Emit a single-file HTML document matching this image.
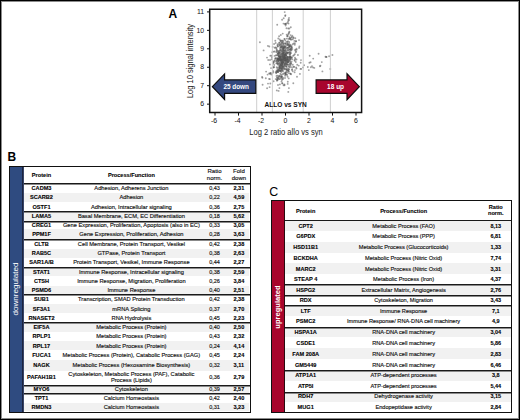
<!DOCTYPE html>
<html><head><meta charset="utf-8"><style>
html,body{margin:0;padding:0;background:#fff}
body{width:520px;height:420px;position:relative;overflow:hidden;font-family:"Liberation Sans",sans-serif;color:#1a1a1a}
.frame{position:absolute;left:0;top:0;width:520px;height:420px;box-sizing:border-box;border:1px solid #000;box-shadow:inset 0 0 0 1px rgba(0,0,0,.45);z-index:9}
.lbl{position:absolute;font-size:12px;font-weight:bold;line-height:12px;color:#000}
.tbl{position:absolute;box-sizing:border-box;border:1.3px solid #111;background:#fff}
.c{position:absolute;width:200px;text-align:center;white-space:nowrap;font-size:5.6px}
.pb{font-weight:bold;color:#000;-webkit-text-stroke:0.1px #000}
.pr{font-size:5.72px;color:#111;-webkit-text-stroke:0.15px #111}
.bg{position:absolute;background:#f1f1f1}
.ln{position:absolute;background:linear-gradient(#1a1a1a 0 1px,#8a8a8a 1px 2px)}
.hd{font-size:6px !important}
.nv{font-size:5.5px !important}
.cp{font-size:5.63px !important}
.side{position:absolute;color:#fff;font-size:8.1px;white-space:nowrap;transform:rotate(-90deg);transform-origin:center center;text-align:center;width:80px;height:10px;line-height:10px}
svg text{font-family:"Liberation Sans",sans-serif}
.tk{font-size:6.9px;fill:#111}
</style></head><body>
<div class="frame"></div>
<div class="lbl" style="left:168.6px;top:7.7px">A</div>
<div class="lbl" style="left:7.6px;top:150.9px">B</div>
<div class="lbl" style="left:269.2px;top:186px;font-weight:normal;font-size:12.4px">C</div>
<svg width="520" height="420" style="position:absolute;left:0;top:0">
<g fill="#555" fill-opacity="0.55"><circle cx="278.4" cy="60.0" r="0.95"/><circle cx="284.9" cy="63.7" r="0.95"/><circle cx="280.3" cy="56.6" r="0.95"/><circle cx="276.5" cy="48.9" r="0.95"/><circle cx="290.1" cy="54.3" r="0.95"/><circle cx="288.0" cy="47.6" r="0.95"/><circle cx="286.2" cy="60.8" r="0.95"/><circle cx="278.5" cy="76.8" r="0.95"/><circle cx="290.1" cy="53.8" r="0.95"/><circle cx="283.2" cy="52.2" r="0.95"/><circle cx="288.8" cy="66.1" r="0.95"/><circle cx="277.8" cy="64.5" r="0.95"/><circle cx="278.5" cy="61.3" r="0.95"/><circle cx="286.3" cy="48.4" r="0.95"/><circle cx="279.6" cy="59.6" r="0.95"/><circle cx="286.1" cy="68.7" r="0.95"/><circle cx="287.3" cy="43.2" r="0.95"/><circle cx="279.1" cy="54.3" r="0.95"/><circle cx="287.2" cy="36.2" r="0.95"/><circle cx="283.8" cy="43.9" r="0.95"/><circle cx="291.9" cy="37.0" r="0.95"/><circle cx="280.4" cy="57.1" r="0.95"/><circle cx="283.3" cy="44.2" r="0.95"/><circle cx="289.8" cy="63.4" r="0.95"/><circle cx="295.8" cy="62.0" r="0.95"/><circle cx="295.0" cy="57.7" r="0.95"/><circle cx="288.3" cy="28.5" r="0.95"/><circle cx="285.7" cy="53.3" r="0.95"/><circle cx="292.2" cy="59.4" r="0.95"/><circle cx="282.6" cy="61.4" r="0.95"/><circle cx="280.7" cy="40.9" r="0.95"/><circle cx="285.0" cy="54.0" r="0.95"/><circle cx="287.7" cy="47.8" r="0.95"/><circle cx="280.3" cy="49.9" r="0.95"/><circle cx="272.4" cy="73.3" r="0.95"/><circle cx="276.9" cy="49.9" r="0.95"/><circle cx="287.3" cy="59.6" r="0.95"/><circle cx="277.7" cy="71.1" r="0.95"/><circle cx="283.7" cy="52.7" r="0.95"/><circle cx="284.9" cy="58.6" r="0.95"/><circle cx="286.8" cy="61.4" r="0.95"/><circle cx="281.5" cy="60.8" r="0.95"/><circle cx="288.4" cy="44.7" r="0.95"/><circle cx="278.4" cy="61.0" r="0.95"/><circle cx="279.1" cy="77.0" r="0.95"/><circle cx="280.5" cy="40.7" r="0.95"/><circle cx="288.3" cy="70.7" r="0.95"/><circle cx="283.1" cy="61.5" r="0.95"/><circle cx="280.5" cy="52.0" r="0.95"/><circle cx="278.0" cy="85.0" r="0.95"/><circle cx="280.9" cy="69.5" r="0.95"/><circle cx="289.5" cy="45.0" r="0.95"/><circle cx="274.4" cy="60.9" r="0.95"/><circle cx="276.7" cy="67.2" r="0.95"/><circle cx="281.7" cy="57.6" r="0.95"/><circle cx="296.5" cy="68.5" r="0.95"/><circle cx="289.0" cy="59.2" r="0.95"/><circle cx="281.7" cy="68.3" r="0.95"/><circle cx="285.0" cy="78.0" r="0.95"/><circle cx="296.2" cy="51.6" r="0.95"/><circle cx="281.8" cy="62.5" r="0.95"/><circle cx="282.3" cy="54.2" r="0.95"/><circle cx="290.1" cy="61.6" r="0.95"/><circle cx="288.3" cy="45.2" r="0.95"/><circle cx="288.3" cy="52.8" r="0.95"/><circle cx="281.0" cy="57.5" r="0.95"/><circle cx="292.7" cy="71.2" r="0.95"/><circle cx="291.1" cy="74.3" r="0.95"/><circle cx="289.0" cy="43.5" r="0.95"/><circle cx="288.7" cy="50.1" r="0.95"/><circle cx="271.0" cy="68.1" r="0.95"/><circle cx="290.6" cy="35.1" r="0.95"/><circle cx="283.2" cy="54.2" r="0.95"/><circle cx="286.1" cy="58.8" r="0.95"/><circle cx="285.1" cy="75.7" r="0.95"/><circle cx="280.4" cy="68.6" r="0.95"/><circle cx="274.6" cy="55.9" r="0.95"/><circle cx="286.2" cy="55.4" r="0.95"/><circle cx="279.8" cy="56.9" r="0.95"/><circle cx="279.0" cy="79.0" r="0.95"/><circle cx="280.9" cy="54.6" r="0.95"/><circle cx="282.1" cy="56.2" r="0.95"/><circle cx="269.9" cy="64.4" r="0.95"/><circle cx="290.5" cy="58.5" r="0.95"/><circle cx="285.3" cy="57.5" r="0.95"/><circle cx="291.7" cy="46.1" r="0.95"/><circle cx="294.6" cy="59.9" r="0.95"/><circle cx="284.4" cy="54.5" r="0.95"/><circle cx="271.4" cy="74.6" r="0.95"/><circle cx="277.4" cy="68.2" r="0.95"/><circle cx="276.8" cy="59.7" r="0.95"/><circle cx="279.5" cy="68.4" r="0.95"/><circle cx="284.5" cy="55.8" r="0.95"/><circle cx="270.4" cy="73.2" r="0.95"/><circle cx="285.4" cy="59.9" r="0.95"/><circle cx="274.0" cy="67.3" r="0.95"/><circle cx="287.4" cy="43.9" r="0.95"/><circle cx="282.3" cy="64.3" r="0.95"/><circle cx="284.7" cy="38.9" r="0.95"/><circle cx="286.7" cy="34.6" r="0.95"/><circle cx="281.0" cy="56.2" r="0.95"/><circle cx="281.6" cy="48.8" r="0.95"/><circle cx="273.8" cy="62.1" r="0.95"/><circle cx="279.4" cy="88.1" r="0.95"/><circle cx="295.3" cy="49.6" r="0.95"/><circle cx="295.7" cy="52.2" r="0.95"/><circle cx="290.5" cy="62.6" r="0.95"/><circle cx="286.6" cy="66.2" r="0.95"/><circle cx="280.0" cy="57.8" r="0.95"/><circle cx="291.9" cy="57.4" r="0.95"/><circle cx="282.0" cy="68.8" r="0.95"/><circle cx="282.2" cy="66.5" r="0.95"/><circle cx="283.7" cy="47.1" r="0.95"/><circle cx="284.2" cy="59.0" r="0.95"/><circle cx="281.0" cy="60.4" r="0.95"/><circle cx="284.9" cy="46.8" r="0.95"/><circle cx="277.0" cy="63.2" r="0.95"/><circle cx="282.9" cy="49.3" r="0.95"/><circle cx="294.6" cy="72.2" r="0.95"/><circle cx="282.8" cy="62.4" r="0.95"/><circle cx="282.0" cy="61.1" r="0.95"/><circle cx="287.5" cy="52.6" r="0.95"/><circle cx="287.7" cy="58.5" r="0.95"/><circle cx="280.8" cy="35.0" r="0.95"/><circle cx="284.3" cy="45.9" r="0.95"/><circle cx="288.0" cy="64.5" r="0.95"/><circle cx="288.7" cy="33.4" r="0.95"/><circle cx="282.7" cy="70.6" r="0.95"/><circle cx="295.3" cy="38.2" r="0.95"/><circle cx="278.4" cy="69.5" r="0.95"/><circle cx="285.4" cy="49.4" r="0.95"/><circle cx="279.2" cy="69.7" r="0.95"/><circle cx="291.6" cy="61.6" r="0.95"/><circle cx="275.3" cy="40.8" r="0.95"/><circle cx="277.6" cy="75.6" r="0.95"/><circle cx="278.0" cy="78.0" r="0.95"/><circle cx="287.3" cy="59.2" r="0.95"/><circle cx="287.4" cy="56.6" r="0.95"/><circle cx="291.6" cy="58.0" r="0.95"/><circle cx="276.4" cy="47.8" r="0.95"/><circle cx="285.8" cy="73.7" r="0.95"/><circle cx="282.8" cy="53.2" r="0.95"/><circle cx="279.9" cy="59.4" r="0.95"/><circle cx="287.9" cy="50.1" r="0.95"/><circle cx="279.4" cy="52.2" r="0.95"/><circle cx="274.1" cy="44.0" r="0.95"/><circle cx="279.2" cy="75.7" r="0.95"/><circle cx="275.4" cy="58.1" r="0.95"/><circle cx="278.2" cy="72.1" r="0.95"/><circle cx="285.6" cy="60.2" r="0.95"/><circle cx="286.5" cy="51.3" r="0.95"/><circle cx="293.0" cy="55.9" r="0.95"/><circle cx="283.4" cy="53.0" r="0.95"/><circle cx="274.9" cy="60.1" r="0.95"/><circle cx="279.9" cy="55.3" r="0.95"/><circle cx="278.9" cy="56.3" r="0.95"/><circle cx="279.1" cy="42.8" r="0.95"/><circle cx="287.4" cy="49.9" r="0.95"/><circle cx="277.0" cy="80.7" r="0.95"/><circle cx="273.6" cy="51.6" r="0.95"/><circle cx="289.2" cy="46.8" r="0.95"/><circle cx="282.3" cy="64.2" r="0.95"/><circle cx="283.0" cy="77.6" r="0.95"/><circle cx="286.6" cy="41.8" r="0.95"/><circle cx="287.4" cy="57.4" r="0.95"/><circle cx="284.8" cy="52.1" r="0.95"/><circle cx="293.5" cy="38.0" r="0.95"/><circle cx="284.6" cy="69.2" r="0.95"/><circle cx="285.7" cy="59.7" r="0.95"/><circle cx="285.7" cy="60.9" r="0.95"/><circle cx="276.7" cy="50.6" r="0.95"/><circle cx="281.8" cy="65.7" r="0.95"/><circle cx="283.0" cy="53.3" r="0.95"/><circle cx="284.9" cy="58.2" r="0.95"/><circle cx="277.8" cy="46.1" r="0.95"/><circle cx="294.8" cy="44.8" r="0.95"/><circle cx="281.7" cy="76.7" r="0.95"/><circle cx="277.6" cy="53.7" r="0.95"/><circle cx="273.4" cy="63.6" r="0.95"/><circle cx="282.0" cy="59.6" r="0.95"/><circle cx="283.8" cy="54.5" r="0.95"/><circle cx="280.4" cy="53.7" r="0.95"/><circle cx="282.9" cy="67.9" r="0.95"/><circle cx="280.4" cy="56.2" r="0.95"/><circle cx="286.9" cy="58.1" r="0.95"/><circle cx="279.4" cy="60.3" r="0.95"/><circle cx="281.2" cy="74.7" r="0.95"/><circle cx="287.8" cy="68.5" r="0.95"/><circle cx="297.2" cy="64.8" r="0.95"/><circle cx="278.8" cy="53.0" r="0.95"/><circle cx="283.3" cy="42.7" r="0.95"/><circle cx="277.1" cy="71.9" r="0.95"/><circle cx="286.2" cy="72.1" r="0.95"/><circle cx="277.3" cy="58.2" r="0.95"/><circle cx="279.8" cy="66.8" r="0.95"/><circle cx="282.0" cy="69.8" r="0.95"/><circle cx="276.6" cy="70.4" r="0.95"/><circle cx="276.5" cy="71.5" r="0.95"/><circle cx="281.6" cy="54.3" r="0.95"/><circle cx="269.1" cy="78.9" r="0.95"/><circle cx="277.6" cy="44.4" r="0.95"/><circle cx="279.7" cy="70.8" r="0.95"/><circle cx="283.5" cy="66.2" r="0.95"/><circle cx="280.9" cy="70.9" r="0.95"/><circle cx="270.3" cy="83.5" r="0.95"/><circle cx="278.3" cy="78.6" r="0.95"/><circle cx="290.0" cy="45.7" r="0.95"/><circle cx="289.6" cy="38.9" r="0.95"/><circle cx="281.6" cy="70.2" r="0.95"/><circle cx="280.3" cy="47.3" r="0.95"/><circle cx="287.1" cy="59.8" r="0.95"/><circle cx="278.8" cy="70.5" r="0.95"/><circle cx="279.8" cy="39.5" r="0.95"/><circle cx="282.7" cy="33.6" r="0.95"/><circle cx="291.2" cy="63.2" r="0.95"/><circle cx="284.7" cy="60.6" r="0.95"/><circle cx="290.4" cy="56.9" r="0.95"/><circle cx="280.7" cy="60.5" r="0.95"/><circle cx="290.3" cy="49.2" r="0.95"/><circle cx="282.8" cy="41.1" r="0.95"/><circle cx="282.9" cy="57.9" r="0.95"/><circle cx="299.1" cy="47.9" r="0.95"/><circle cx="290.7" cy="39.5" r="0.95"/><circle cx="279.8" cy="66.3" r="0.95"/><circle cx="283.1" cy="59.2" r="0.95"/><circle cx="284.6" cy="65.1" r="0.95"/><circle cx="292.0" cy="47.6" r="0.95"/><circle cx="281.9" cy="51.8" r="0.95"/><circle cx="275.5" cy="47.5" r="0.95"/><circle cx="283.5" cy="48.9" r="0.95"/><circle cx="283.2" cy="62.4" r="0.95"/><circle cx="285.5" cy="50.2" r="0.95"/><circle cx="290.3" cy="64.5" r="0.95"/><circle cx="284.7" cy="64.2" r="0.95"/><circle cx="284.5" cy="85.3" r="0.95"/><circle cx="279.8" cy="42.6" r="0.95"/><circle cx="286.8" cy="71.1" r="0.95"/><circle cx="295.4" cy="58.9" r="0.95"/><circle cx="287.9" cy="59.8" r="0.95"/><circle cx="287.5" cy="41.9" r="0.95"/><circle cx="285.2" cy="54.2" r="0.95"/><circle cx="292.2" cy="69.3" r="0.95"/><circle cx="278.5" cy="59.0" r="0.95"/><circle cx="282.7" cy="61.0" r="0.95"/><circle cx="286.6" cy="56.4" r="0.95"/><circle cx="285.6" cy="74.4" r="0.95"/><circle cx="281.1" cy="59.7" r="0.95"/><circle cx="289.1" cy="32.5" r="0.95"/><circle cx="283.2" cy="51.3" r="0.95"/><circle cx="287.6" cy="35.4" r="0.95"/><circle cx="288.5" cy="19.4" r="0.95"/><circle cx="278.0" cy="53.4" r="0.95"/><circle cx="281.0" cy="76.7" r="0.95"/><circle cx="288.3" cy="60.6" r="0.95"/><circle cx="280.1" cy="45.3" r="0.95"/><circle cx="283.8" cy="48.2" r="0.95"/><circle cx="285.2" cy="74.1" r="0.95"/><circle cx="277.2" cy="62.0" r="0.95"/><circle cx="284.4" cy="60.6" r="0.95"/><circle cx="277.7" cy="59.3" r="0.95"/><circle cx="289.8" cy="60.5" r="0.95"/><circle cx="295.0" cy="70.1" r="0.95"/><circle cx="293.9" cy="66.9" r="0.95"/><circle cx="281.9" cy="62.7" r="0.95"/><circle cx="289.5" cy="47.0" r="0.95"/><circle cx="283.3" cy="66.4" r="0.95"/><circle cx="285.3" cy="51.4" r="0.95"/><circle cx="290.3" cy="73.7" r="0.95"/><circle cx="278.3" cy="44.1" r="0.95"/><circle cx="289.7" cy="58.3" r="0.95"/><circle cx="283.2" cy="59.9" r="0.95"/><circle cx="293.7" cy="43.4" r="0.95"/><circle cx="281.5" cy="81.5" r="0.95"/><circle cx="277.2" cy="78.3" r="0.95"/><circle cx="285.9" cy="54.2" r="0.95"/><circle cx="286.3" cy="69.6" r="0.95"/><circle cx="283.0" cy="64.7" r="0.95"/><circle cx="290.8" cy="27.3" r="0.95"/><circle cx="280.1" cy="63.1" r="0.95"/><circle cx="271.7" cy="59.2" r="0.95"/><circle cx="288.4" cy="61.0" r="0.95"/><circle cx="289.3" cy="46.5" r="0.95"/><circle cx="284.8" cy="56.6" r="0.95"/><circle cx="284.2" cy="57.8" r="0.95"/><circle cx="287.2" cy="74.9" r="0.95"/><circle cx="280.4" cy="64.2" r="0.95"/><circle cx="279.6" cy="59.9" r="0.95"/><circle cx="279.8" cy="79.1" r="0.95"/><circle cx="291.1" cy="53.1" r="0.95"/><circle cx="276.4" cy="55.1" r="0.95"/><circle cx="293.4" cy="37.3" r="0.95"/><circle cx="277.2" cy="79.6" r="0.95"/><circle cx="275.6" cy="72.1" r="0.95"/><circle cx="289.0" cy="71.5" r="0.95"/><circle cx="281.8" cy="68.4" r="0.95"/><circle cx="276.0" cy="61.4" r="0.95"/><circle cx="281.1" cy="62.7" r="0.95"/><circle cx="289.2" cy="56.8" r="0.95"/><circle cx="290.5" cy="57.5" r="0.95"/><circle cx="281.0" cy="60.7" r="0.95"/><circle cx="283.1" cy="78.9" r="0.95"/><circle cx="286.5" cy="66.9" r="0.95"/><circle cx="280.0" cy="59.3" r="0.95"/><circle cx="286.5" cy="52.8" r="0.95"/><circle cx="284.4" cy="52.1" r="0.95"/><circle cx="277.7" cy="80.0" r="0.95"/><circle cx="279.9" cy="66.3" r="0.95"/><circle cx="283.8" cy="60.8" r="0.95"/><circle cx="284.3" cy="55.7" r="0.95"/><circle cx="282.3" cy="46.1" r="0.95"/><circle cx="281.2" cy="59.2" r="0.95"/><circle cx="288.2" cy="70.9" r="0.95"/><circle cx="285.4" cy="55.1" r="0.95"/><circle cx="288.9" cy="57.2" r="0.95"/><circle cx="290.6" cy="57.2" r="0.95"/><circle cx="286.6" cy="61.4" r="0.95"/><circle cx="299.0" cy="40.1" r="0.95"/><circle cx="279.3" cy="57.1" r="0.95"/><circle cx="289.5" cy="49.3" r="0.95"/><circle cx="280.2" cy="71.1" r="0.95"/><circle cx="295.2" cy="50.4" r="0.95"/><circle cx="292.0" cy="67.2" r="0.95"/><circle cx="269.9" cy="79.1" r="0.95"/><circle cx="278.6" cy="56.1" r="0.95"/><circle cx="288.3" cy="52.5" r="0.95"/><circle cx="287.6" cy="62.4" r="0.95"/><circle cx="287.6" cy="60.0" r="0.95"/><circle cx="284.8" cy="47.6" r="0.95"/><circle cx="285.2" cy="65.8" r="0.95"/><circle cx="283.6" cy="85.2" r="0.95"/><circle cx="283.5" cy="56.8" r="0.95"/><circle cx="289.6" cy="57.5" r="0.95"/><circle cx="272.7" cy="46.9" r="0.95"/><circle cx="286.5" cy="64.0" r="0.95"/><circle cx="279.9" cy="44.4" r="0.95"/><circle cx="290.8" cy="46.2" r="0.95"/><circle cx="280.0" cy="76.0" r="0.95"/><circle cx="280.1" cy="48.7" r="0.95"/><circle cx="283.7" cy="73.5" r="0.95"/><circle cx="275.7" cy="79.1" r="0.95"/><circle cx="277.9" cy="63.2" r="0.95"/><circle cx="273.8" cy="66.9" r="0.95"/><circle cx="279.9" cy="84.4" r="0.95"/><circle cx="286.6" cy="57.5" r="0.95"/><circle cx="290.3" cy="52.6" r="0.95"/><circle cx="285.1" cy="43.1" r="0.95"/><circle cx="289.3" cy="60.5" r="0.95"/><circle cx="281.0" cy="78.5" r="0.95"/><circle cx="281.3" cy="72.0" r="0.95"/><circle cx="288.4" cy="48.2" r="0.95"/><circle cx="290.9" cy="49.3" r="0.95"/><circle cx="282.5" cy="53.7" r="0.95"/><circle cx="281.6" cy="63.7" r="0.95"/><circle cx="283.0" cy="57.4" r="0.95"/><circle cx="283.6" cy="62.7" r="0.95"/><circle cx="277.9" cy="63.7" r="0.95"/><circle cx="289.8" cy="56.3" r="0.95"/><circle cx="281.3" cy="59.5" r="0.95"/><circle cx="285.7" cy="62.6" r="0.95"/><circle cx="279.0" cy="59.0" r="0.95"/><circle cx="284.6" cy="66.3" r="0.95"/><circle cx="282.4" cy="83.4" r="0.95"/><circle cx="280.1" cy="67.4" r="0.95"/><circle cx="294.7" cy="60.7" r="0.95"/><circle cx="288.5" cy="38.9" r="0.95"/><circle cx="292.8" cy="64.8" r="0.95"/><circle cx="292.3" cy="35.7" r="0.95"/><circle cx="282.3" cy="42.4" r="0.95"/><circle cx="279.9" cy="70.7" r="0.95"/><circle cx="284.7" cy="68.8" r="0.95"/><circle cx="284.1" cy="58.1" r="0.95"/><circle cx="286.8" cy="38.6" r="0.95"/><circle cx="282.5" cy="55.4" r="0.95"/><circle cx="274.6" cy="51.5" r="0.95"/><circle cx="281.1" cy="68.0" r="0.95"/><circle cx="267.1" cy="88.2" r="0.95"/><circle cx="285.2" cy="62.7" r="0.95"/><circle cx="280.8" cy="50.3" r="0.95"/><circle cx="281.5" cy="45.4" r="0.95"/><circle cx="282.4" cy="59.3" r="0.95"/><circle cx="285.3" cy="57.8" r="0.95"/><circle cx="277.5" cy="45.6" r="0.95"/><circle cx="273.5" cy="61.5" r="0.95"/><circle cx="279.5" cy="45.6" r="0.95"/><circle cx="270.1" cy="73.9" r="0.95"/><circle cx="276.2" cy="73.3" r="0.95"/><circle cx="290.5" cy="73.6" r="0.95"/><circle cx="278.4" cy="54.1" r="0.95"/><circle cx="286.2" cy="66.4" r="0.95"/><circle cx="276.0" cy="58.3" r="0.95"/><circle cx="285.9" cy="55.1" r="0.95"/><circle cx="282.3" cy="55.8" r="0.95"/><circle cx="285.4" cy="43.8" r="0.95"/><circle cx="289.2" cy="42.0" r="0.95"/><circle cx="291.9" cy="69.9" r="0.95"/><circle cx="284.9" cy="57.6" r="0.95"/><circle cx="283.8" cy="62.7" r="0.95"/><circle cx="276.3" cy="72.5" r="0.95"/><circle cx="289.8" cy="38.3" r="0.95"/><circle cx="283.5" cy="50.2" r="0.95"/><circle cx="287.9" cy="62.2" r="0.95"/><circle cx="282.6" cy="64.9" r="0.95"/><circle cx="293.9" cy="55.3" r="0.95"/><circle cx="270.6" cy="72.9" r="0.95"/><circle cx="281.5" cy="62.6" r="0.95"/><circle cx="290.6" cy="44.8" r="0.95"/><circle cx="283.2" cy="48.4" r="0.95"/><circle cx="277.7" cy="70.1" r="0.95"/><circle cx="281.2" cy="65.8" r="0.95"/><circle cx="279.1" cy="36.3" r="0.95"/><circle cx="281.8" cy="76.8" r="0.95"/><circle cx="296.1" cy="67.5" r="0.95"/><circle cx="287.6" cy="76.8" r="0.95"/><circle cx="278.0" cy="55.2" r="0.95"/><circle cx="279.1" cy="56.3" r="0.95"/><circle cx="283.2" cy="45.9" r="0.95"/><circle cx="279.2" cy="57.8" r="0.95"/><circle cx="276.9" cy="79.8" r="0.95"/><circle cx="289.6" cy="51.9" r="0.95"/><circle cx="288.1" cy="62.0" r="0.95"/><circle cx="284.3" cy="39.1" r="0.95"/><circle cx="277.9" cy="55.2" r="0.95"/><circle cx="273.1" cy="72.3" r="0.95"/><circle cx="281.8" cy="44.4" r="0.95"/><circle cx="269.1" cy="73.4" r="0.95"/><circle cx="287.1" cy="64.2" r="0.95"/><circle cx="281.8" cy="47.0" r="0.95"/><circle cx="287.1" cy="53.7" r="0.95"/><circle cx="294.8" cy="54.3" r="0.95"/><circle cx="290.2" cy="59.4" r="0.95"/><circle cx="278.0" cy="53.3" r="0.95"/><circle cx="289.8" cy="49.7" r="0.95"/><circle cx="290.5" cy="56.2" r="0.95"/><circle cx="281.1" cy="47.2" r="0.95"/><circle cx="280.4" cy="43.9" r="0.95"/><circle cx="283.0" cy="59.4" r="0.95"/><circle cx="273.0" cy="71.0" r="0.95"/><circle cx="294.4" cy="40.9" r="0.95"/><circle cx="270.0" cy="60.0" r="0.95"/><circle cx="278.4" cy="51.9" r="0.95"/><circle cx="283.7" cy="47.8" r="0.95"/><circle cx="280.7" cy="70.7" r="0.95"/><circle cx="285.3" cy="53.5" r="0.95"/><circle cx="282.4" cy="78.7" r="0.95"/><circle cx="283.7" cy="50.3" r="0.95"/><circle cx="289.2" cy="64.8" r="0.95"/><circle cx="271.9" cy="57.2" r="0.95"/><circle cx="284.8" cy="50.6" r="0.95"/><circle cx="278.5" cy="67.3" r="0.95"/><circle cx="284.5" cy="58.1" r="0.95"/><circle cx="283.7" cy="67.5" r="0.95"/><circle cx="278.5" cy="59.4" r="0.95"/><circle cx="281.8" cy="46.4" r="0.95"/><circle cx="288.1" cy="58.7" r="0.95"/><circle cx="285.4" cy="60.6" r="0.95"/><circle cx="278.0" cy="72.0" r="0.95"/><circle cx="296.5" cy="48.7" r="0.95"/><circle cx="296.5" cy="59.5" r="0.95"/><circle cx="278.3" cy="38.5" r="0.95"/><circle cx="284.0" cy="68.1" r="0.95"/><circle cx="299.4" cy="46.5" r="0.95"/><circle cx="291.1" cy="37.4" r="0.95"/><circle cx="284.8" cy="59.3" r="0.95"/><circle cx="280.4" cy="73.8" r="0.95"/><circle cx="283.1" cy="40.9" r="0.95"/><circle cx="284.2" cy="46.4" r="0.95"/><circle cx="281.7" cy="50.7" r="0.95"/><circle cx="289.6" cy="45.9" r="0.95"/><circle cx="280.6" cy="64.7" r="0.95"/><circle cx="282.4" cy="49.9" r="0.95"/><circle cx="278.0" cy="51.0" r="0.95"/><circle cx="282.2" cy="67.3" r="0.95"/><circle cx="279.8" cy="50.6" r="0.95"/><circle cx="281.7" cy="65.4" r="0.95"/><circle cx="291.0" cy="47.9" r="0.95"/><circle cx="287.7" cy="44.8" r="0.95"/><circle cx="289.5" cy="37.1" r="0.95"/><circle cx="282.2" cy="83.3" r="0.95"/><circle cx="284.4" cy="56.0" r="0.95"/><circle cx="282.4" cy="63.0" r="0.95"/><circle cx="281.8" cy="59.6" r="0.95"/><circle cx="287.5" cy="62.0" r="0.95"/><circle cx="277.3" cy="60.6" r="0.95"/><circle cx="287.7" cy="83.9" r="0.95"/><circle cx="285.5" cy="47.0" r="0.95"/><circle cx="282.0" cy="40.5" r="0.95"/><circle cx="282.5" cy="47.4" r="0.95"/><circle cx="282.0" cy="43.3" r="0.95"/><circle cx="283.1" cy="69.3" r="0.95"/><circle cx="278.0" cy="70.3" r="0.95"/><circle cx="291.6" cy="48.0" r="0.95"/><circle cx="281.6" cy="42.6" r="0.95"/><circle cx="271.4" cy="55.6" r="0.95"/><circle cx="277.0" cy="77.4" r="0.95"/><circle cx="277.2" cy="24.8" r="0.95"/><circle cx="282.4" cy="66.6" r="0.95"/><circle cx="291.3" cy="46.6" r="0.95"/><circle cx="285.3" cy="73.0" r="0.95"/><circle cx="277.9" cy="46.5" r="0.95"/><circle cx="279.7" cy="56.4" r="0.95"/><circle cx="296.1" cy="41.2" r="0.95"/><circle cx="287.0" cy="47.8" r="0.95"/><circle cx="281.1" cy="77.3" r="0.95"/><circle cx="288.0" cy="70.3" r="0.95"/><circle cx="297.9" cy="55.0" r="0.95"/><circle cx="292.3" cy="49.1" r="0.95"/><circle cx="287.6" cy="36.3" r="0.95"/><circle cx="286.2" cy="55.1" r="0.95"/><circle cx="287.0" cy="59.6" r="0.95"/><circle cx="280.2" cy="58.9" r="0.95"/><circle cx="277.7" cy="58.8" r="0.95"/><circle cx="285.8" cy="46.0" r="0.95"/><circle cx="278.3" cy="59.2" r="0.95"/><circle cx="283.2" cy="59.5" r="0.95"/><circle cx="281.8" cy="76.1" r="0.95"/><circle cx="293.3" cy="83.3" r="0.95"/><circle cx="279.0" cy="58.3" r="0.95"/><circle cx="284.2" cy="50.4" r="0.95"/><circle cx="282.7" cy="59.2" r="0.95"/><circle cx="287.0" cy="52.4" r="0.95"/><circle cx="290.7" cy="50.7" r="0.95"/><circle cx="280.9" cy="59.3" r="0.95"/><circle cx="280.7" cy="47.0" r="0.95"/><circle cx="273.3" cy="67.6" r="0.95"/><circle cx="278.5" cy="58.7" r="0.95"/><circle cx="286.1" cy="63.1" r="0.95"/><circle cx="284.1" cy="57.7" r="0.95"/><circle cx="279.1" cy="50.9" r="0.95"/><circle cx="283.1" cy="48.2" r="0.95"/><circle cx="284.1" cy="57.0" r="0.95"/><circle cx="287.3" cy="53.1" r="0.95"/><circle cx="279.8" cy="62.9" r="0.95"/><circle cx="282.1" cy="59.9" r="0.95"/><circle cx="275.7" cy="43.0" r="0.95"/><circle cx="276.9" cy="60.8" r="0.95"/><circle cx="294.9" cy="43.2" r="0.95"/><circle cx="272.3" cy="52.3" r="0.95"/><circle cx="282.1" cy="56.3" r="0.95"/><circle cx="288.4" cy="34.1" r="0.95"/><circle cx="281.2" cy="61.1" r="0.95"/><circle cx="278.7" cy="61.9" r="0.95"/><circle cx="283.4" cy="58.0" r="0.95"/><circle cx="284.2" cy="54.7" r="0.95"/><circle cx="283.7" cy="55.3" r="0.95"/><circle cx="274.7" cy="47.8" r="0.95"/><circle cx="283.1" cy="56.6" r="0.95"/><circle cx="279.7" cy="53.1" r="0.95"/><circle cx="280.3" cy="61.1" r="0.95"/><circle cx="286.9" cy="44.9" r="0.95"/><circle cx="286.7" cy="62.9" r="0.95"/><circle cx="288.3" cy="61.8" r="0.95"/><circle cx="281.0" cy="58.2" r="0.95"/><circle cx="289.4" cy="54.5" r="0.95"/><circle cx="289.1" cy="66.9" r="0.95"/><circle cx="292.8" cy="39.2" r="0.95"/><circle cx="290.5" cy="65.8" r="0.95"/><circle cx="282.3" cy="63.0" r="0.95"/><circle cx="282.0" cy="63.5" r="0.95"/><circle cx="287.4" cy="64.8" r="0.95"/><circle cx="277.0" cy="51.8" r="0.95"/><circle cx="285.1" cy="56.8" r="0.95"/><circle cx="279.4" cy="68.0" r="0.95"/><circle cx="280.7" cy="65.4" r="0.95"/><circle cx="273.4" cy="62.6" r="0.95"/><circle cx="281.2" cy="41.1" r="0.95"/><circle cx="282.4" cy="66.7" r="0.95"/><circle cx="286.4" cy="74.6" r="0.95"/><circle cx="287.3" cy="72.6" r="0.95"/><circle cx="282.6" cy="62.9" r="0.95"/><circle cx="285.2" cy="40.5" r="0.95"/><circle cx="277.2" cy="71.8" r="0.95"/><circle cx="286.0" cy="58.2" r="0.95"/><circle cx="286.5" cy="28.3" r="0.95"/><circle cx="286.2" cy="64.7" r="0.95"/><circle cx="295.9" cy="41.3" r="0.95"/><circle cx="285.6" cy="43.8" r="0.95"/><circle cx="276.2" cy="52.1" r="0.95"/><circle cx="276.5" cy="75.9" r="0.95"/><circle cx="276.0" cy="55.4" r="0.95"/><circle cx="276.3" cy="63.4" r="0.95"/><circle cx="287.8" cy="81.8" r="0.95"/><circle cx="282.0" cy="79.9" r="0.95"/><circle cx="275.2" cy="58.7" r="0.95"/><circle cx="287.6" cy="57.0" r="0.95"/><circle cx="292.8" cy="44.2" r="0.95"/><circle cx="282.7" cy="51.3" r="0.95"/><circle cx="279.0" cy="65.3" r="0.95"/><circle cx="280.9" cy="64.9" r="0.95"/><circle cx="284.9" cy="61.4" r="0.95"/><circle cx="285.3" cy="72.4" r="0.95"/><circle cx="291.5" cy="50.3" r="0.95"/><circle cx="290.4" cy="59.3" r="0.95"/><circle cx="288.9" cy="69.1" r="0.95"/><circle cx="290.1" cy="67.3" r="0.95"/><circle cx="285.3" cy="73.4" r="0.95"/><circle cx="274.2" cy="65.0" r="0.95"/><circle cx="283.3" cy="56.1" r="0.95"/><circle cx="284.6" cy="64.5" r="0.95"/><circle cx="283.1" cy="47.5" r="0.95"/><circle cx="291.5" cy="39.5" r="0.95"/><circle cx="280.5" cy="67.3" r="0.95"/><circle cx="278.4" cy="59.3" r="0.95"/><circle cx="291.0" cy="63.9" r="0.95"/><circle cx="290.2" cy="38.8" r="0.95"/><circle cx="285.4" cy="55.4" r="0.95"/><circle cx="289.7" cy="52.5" r="0.95"/><circle cx="291.0" cy="49.2" r="0.95"/><circle cx="289.4" cy="31.8" r="0.95"/><circle cx="270.3" cy="55.8" r="0.95"/><circle cx="278.1" cy="71.2" r="0.95"/><circle cx="280.3" cy="64.8" r="0.95"/><circle cx="279.0" cy="52.5" r="0.95"/><circle cx="284.6" cy="59.8" r="0.95"/><circle cx="288.9" cy="69.5" r="0.95"/><circle cx="285.6" cy="25.5" r="0.95"/><circle cx="277.4" cy="58.4" r="0.95"/><circle cx="293.9" cy="66.8" r="0.95"/><circle cx="279.8" cy="68.5" r="0.95"/><circle cx="273.6" cy="81.3" r="0.95"/><circle cx="282.8" cy="74.2" r="0.95"/><circle cx="285.3" cy="63.9" r="0.95"/><circle cx="279.0" cy="63.8" r="0.95"/><circle cx="286.5" cy="69.8" r="0.95"/><circle cx="281.7" cy="53.3" r="0.95"/><circle cx="278.4" cy="59.5" r="0.95"/><circle cx="282.9" cy="71.3" r="0.95"/><circle cx="284.4" cy="84.5" r="0.95"/><circle cx="280.2" cy="58.0" r="0.95"/><circle cx="285.4" cy="59.4" r="0.95"/><circle cx="282.6" cy="62.5" r="0.95"/><circle cx="297.0" cy="76.8" r="0.95"/><circle cx="279.6" cy="59.6" r="0.95"/><circle cx="288.7" cy="78.4" r="0.95"/><circle cx="284.9" cy="47.9" r="0.95"/><circle cx="283.1" cy="57.7" r="0.95"/><circle cx="287.9" cy="57.5" r="0.95"/><circle cx="287.1" cy="69.8" r="0.95"/><circle cx="288.8" cy="73.1" r="0.95"/><circle cx="288.0" cy="41.1" r="0.95"/><circle cx="283.5" cy="23.6" r="0.95"/><circle cx="286.3" cy="23.5" r="0.95"/><circle cx="288.5" cy="23.6" r="0.95"/><circle cx="287.7" cy="22.7" r="0.95"/><circle cx="285.4" cy="15.3" r="0.95"/><circle cx="282.1" cy="19.8" r="0.95"/><circle cx="289.0" cy="17.9" r="0.95"/><circle cx="288.1" cy="21.3" r="0.95"/><circle cx="289.3" cy="28.5" r="0.95"/><circle cx="284.7" cy="12.1" r="0.95"/><circle cx="285.2" cy="16.0" r="0.95"/><circle cx="283.7" cy="18.2" r="0.95"/><circle cx="289.0" cy="20.3" r="0.95"/><circle cx="285.6" cy="24.2" r="0.95"/><circle cx="285.5" cy="23.9" r="0.95"/><circle cx="284.9" cy="23.9" r="0.95"/><circle cx="308.8" cy="70.1" r="0.95"/><circle cx="313.0" cy="67.4" r="0.95"/><circle cx="296.6" cy="49.8" r="0.95"/><circle cx="304.1" cy="65.2" r="0.95"/><circle cx="298.7" cy="65.6" r="0.95"/><circle cx="329.1" cy="56.2" r="0.95"/><circle cx="299.9" cy="73.9" r="0.95"/><circle cx="300.7" cy="62.8" r="0.95"/><circle cx="300.5" cy="68.9" r="0.95"/><circle cx="314.3" cy="67.9" r="0.95"/><circle cx="307.8" cy="67.0" r="0.95"/><circle cx="322.4" cy="71.4" r="0.95"/><circle cx="309.4" cy="62.8" r="0.95"/><circle cx="301.2" cy="68.9" r="0.95"/><circle cx="312.0" cy="66.1" r="0.95"/><circle cx="326.4" cy="56.9" r="0.95"/><circle cx="301.0" cy="60.1" r="0.95"/><circle cx="326.3" cy="57.0" r="0.95"/><circle cx="318.6" cy="53.8" r="0.95"/><circle cx="332.4" cy="55.0" r="0.95"/><circle cx="319.9" cy="66.2" r="0.95"/><circle cx="309.7" cy="55.8" r="0.95"/><circle cx="330.3" cy="69.0" r="0.95"/><circle cx="310.6" cy="62.2" r="0.95"/><circle cx="321.8" cy="62.1" r="0.95"/><circle cx="325.5" cy="56.8" r="0.95"/><circle cx="320.4" cy="65.7" r="0.95"/><circle cx="313.2" cy="58.6" r="0.95"/><circle cx="310.9" cy="67.2" r="0.95"/><circle cx="303.0" cy="67.4" r="0.95"/><circle cx="263.6" cy="50.4" r="0.95"/><circle cx="267.6" cy="74.6" r="0.95"/><circle cx="269.3" cy="46.5" r="0.95"/><circle cx="265.8" cy="78.3" r="0.95"/><circle cx="267.9" cy="45.9" r="0.95"/><circle cx="267.0" cy="57.6" r="0.95"/><circle cx="268.0" cy="83.6" r="0.95"/><circle cx="266.1" cy="71.6" r="0.95"/><circle cx="262.1" cy="76.9" r="0.95"/><circle cx="259.9" cy="42.3" r="0.95"/><circle cx="262.4" cy="77.8" r="0.95"/><circle cx="268.2" cy="60.0" r="0.95"/><circle cx="288.3" cy="91.9" r="0.95"/><circle cx="288.9" cy="88.1" r="0.95"/><circle cx="269.6" cy="87.1" r="0.95"/><circle cx="262.6" cy="84.7" r="0.95"/><circle cx="278.6" cy="90.9" r="0.95"/><circle cx="276.8" cy="90.4" r="0.95"/></g>
<line x1="256.7" y1="9.5" x2="256.7" y2="112" stroke="#c8c8c8" stroke-width="0.9"/>
<line x1="272.4" y1="9.5" x2="272.4" y2="112" stroke="#c8c8c8" stroke-width="0.9"/>
<line x1="303.2" y1="9.5" x2="303.2" y2="112" stroke="#c8c8c8" stroke-width="0.9"/>
<line x1="330.4" y1="9.5" x2="330.4" y2="112" stroke="#c8c8c8" stroke-width="0.9"/>
<line x1="207" y1="11.90" x2="209.5" y2="11.90" stroke="#111" stroke-width="1"/>
<text x="204.2" y="14.10" text-anchor="end" class="tk">11</text>
<line x1="207" y1="30.35" x2="209.5" y2="30.35" stroke="#111" stroke-width="1"/>
<text x="204.2" y="32.55" text-anchor="end" class="tk">10</text>
<line x1="207" y1="48.80" x2="209.5" y2="48.80" stroke="#111" stroke-width="1"/>
<text x="204.2" y="51.00" text-anchor="end" class="tk">9</text>
<line x1="207" y1="67.25" x2="209.5" y2="67.25" stroke="#111" stroke-width="1"/>
<text x="204.2" y="69.45" text-anchor="end" class="tk">8</text>
<line x1="207" y1="85.70" x2="209.5" y2="85.70" stroke="#111" stroke-width="1"/>
<text x="204.2" y="87.90" text-anchor="end" class="tk">7</text>
<line x1="207" y1="104.15" x2="209.5" y2="104.15" stroke="#111" stroke-width="1"/>
<text x="204.2" y="106.35" text-anchor="end" class="tk">6</text>
<line x1="215.00" y1="112.5" x2="215.00" y2="115.6" stroke="#111" stroke-width="1"/>
<text x="214.00" y="123.4" text-anchor="middle" class="tk">-6</text>
<line x1="238.50" y1="112.5" x2="238.50" y2="115.6" stroke="#111" stroke-width="1"/>
<text x="237.50" y="123.4" text-anchor="middle" class="tk">-4</text>
<line x1="262.00" y1="112.5" x2="262.00" y2="115.6" stroke="#111" stroke-width="1"/>
<text x="261.00" y="123.4" text-anchor="middle" class="tk">-2</text>
<line x1="285.50" y1="112.5" x2="285.50" y2="115.6" stroke="#111" stroke-width="1"/>
<text x="285.50" y="123.4" text-anchor="middle" class="tk">0</text>
<line x1="309.00" y1="112.5" x2="309.00" y2="115.6" stroke="#111" stroke-width="1"/>
<text x="309.00" y="123.4" text-anchor="middle" class="tk">2</text>
<line x1="332.50" y1="112.5" x2="332.50" y2="115.6" stroke="#111" stroke-width="1"/>
<text x="332.50" y="123.4" text-anchor="middle" class="tk">4</text>
<line x1="356.00" y1="112.5" x2="356.00" y2="115.6" stroke="#111" stroke-width="1"/>
<text x="356.00" y="123.4" text-anchor="middle" class="tk">6</text>
<path d="M209.7 9.2 V112.6 H361.6 V9.2 Z" fill="none" stroke="#111" stroke-width="1.5"/>
<polygon points="212.4,86.7 224.6,73.9 224.6,79.9 255.8,79.9 255.8,93.4 224.6,93.4 224.6,99.5" fill="#34487f" stroke="#0d0d0d" stroke-width="1.15"/>
<polygon points="359.3,86.7 347,73.6 347,79.9 316.1,79.9 316.1,93.4 347,93.4 347,99.7" fill="#a8052d" stroke="#0d0d0d" stroke-width="1.15"/>
<text x="236.2" y="88.9" text-anchor="middle" font-size="6.4" font-weight="bold" fill="#fff">25 down</text>
<text x="335.6" y="88.9" text-anchor="middle" font-size="6.5" font-weight="bold" fill="#fff">18 up</text>
<text x="264.6" y="107.1" font-size="6.55" font-weight="bold" fill="#111">ALLO vs SYN</text>
<text transform="translate(286,134.9) scale(0.855,1)" text-anchor="middle" font-size="8.9" fill="#1a1a1a">Log 2 ratio allo vs syn</text>
<text transform="translate(193.1,61) rotate(-90) scale(0.845,1)" text-anchor="middle" font-size="8.9" fill="#1a1a1a">Log 10 signal intensity</text>
</svg>

<div class="tbl" style="left:8.9px;top:165.5px;width:241.7px;height:247.6px"></div>
<div style="position:absolute;left:10px;top:167px;width:12px;height:245px;background:#2f4b80"></div>
<div style="position:absolute;left:22px;top:167px;width:2px;height:245px;background:linear-gradient(90deg,#1b2440 0 1px,#3a4668 1px 2px)"></div>
<div class="side" style="left:-24.5px;top:284px">downregulated</div>
<div class="ln" style="left:23.7px;width:226px;top:183px;height:2px"></div>
<div class="c pb" style="left:-58.5px;top:175.2px;line-height:0;">Protein</div>
<div class="c pb" style="left:31.4px;top:175.2px;line-height:0;">Process/Function</div>
<div class="c pr hd" style="left:114.5px;top:171.4px;line-height:0;">Ratio</div>
<div class="c pr hd" style="left:114.5px;top:178.0px;line-height:0;">norm.</div>
<div class="c pr hd" style="left:138.9px;top:171.4px;line-height:0;">Fold</div>
<div class="c pr hd" style="left:138.9px;top:178.0px;line-height:0;">down</div>
<div class="c pb" style="left:-58.5px;top:184.00px;height:8.00px;line-height:8.00px">CADM3</div>
<div class="c pr" style="left:31.4px;top:184.00px;height:8.00px;line-height:8.00px">Adhesion, Adherens Junction</div>
<div class="c pr nv" style="left:114.5px;top:184.00px;height:8.00px;line-height:8.00px">0,43</div>
<div class="c pb" style="left:138.9px;top:184.00px;height:8.00px;line-height:8.00px">2,31</div>
<div class="bg" style="left:23.7px;width:225.5px;top:192.65px;height:9.25px"></div>
<div class="c pb" style="left:-58.5px;top:193.30px;height:8.00px;line-height:8.00px">SCARB2</div>
<div class="c pr" style="left:31.4px;top:193.30px;height:8.00px;line-height:8.00px">Adhesion</div>
<div class="c pr nv" style="left:114.5px;top:193.30px;height:8.00px;line-height:8.00px">0,22</div>
<div class="c pb" style="left:138.9px;top:193.30px;height:8.00px;line-height:8.00px">4,59</div>
<div class="c pb" style="left:-58.5px;top:202.50px;height:8.00px;line-height:8.00px">OSTF1</div>
<div class="c pr" style="left:31.4px;top:202.50px;height:8.00px;line-height:8.00px">Adhesion, Intracellular signaling</div>
<div class="c pr nv" style="left:114.5px;top:202.50px;height:8.00px;line-height:8.00px">0,36</div>
<div class="c pb" style="left:138.9px;top:202.50px;height:8.00px;line-height:8.00px">2,75</div>
<div class="bg" style="left:23.7px;width:225.5px;top:212.10px;height:8.90px"></div>
<div class="c pb" style="left:-58.5px;top:212.00px;height:8.00px;line-height:8.00px">LAMA5</div>
<div class="c pr" style="left:31.4px;top:212.00px;height:8.00px;line-height:8.00px">Basal Membrane, ECM, EC Differentiation</div>
<div class="c pr nv" style="left:114.5px;top:212.00px;height:8.00px;line-height:8.00px">0,18</div>
<div class="c pb" style="left:138.9px;top:212.00px;height:8.00px;line-height:8.00px">5,62</div>
<div class="c pb" style="left:-58.5px;top:221.00px;height:8.00px;line-height:8.00px">CREG1</div>
<div class="c pr" style="left:31.4px;top:221.00px;height:8.00px;line-height:8.00px">Gene Expression, Proliferation, Apoptosis (also in EC)</div>
<div class="c pr nv" style="left:114.5px;top:221.00px;height:8.00px;line-height:8.00px">0,33</div>
<div class="c pb" style="left:138.9px;top:221.00px;height:8.00px;line-height:8.00px">3,05</div>
<div class="bg" style="left:23.7px;width:225.5px;top:229.45px;height:9.75px"></div>
<div class="c pb" style="left:-58.5px;top:229.90px;height:8.00px;line-height:8.00px">PPM1F</div>
<div class="c pr" style="left:31.4px;top:229.90px;height:8.00px;line-height:8.00px">Gene Expression, Proliferation, Adhesion</div>
<div class="c pr nv" style="left:114.5px;top:229.90px;height:8.00px;line-height:8.00px">0,28</div>
<div class="c pb" style="left:138.9px;top:229.90px;height:8.00px;line-height:8.00px">3,63</div>
<div class="c pb" style="left:-58.5px;top:240.00px;height:8.00px;line-height:8.00px">CLTB</div>
<div class="c pr" style="left:31.4px;top:240.00px;height:8.00px;line-height:8.00px">Cell Membrane, Protein Transport, Vesikel</div>
<div class="c pr nv" style="left:114.5px;top:240.00px;height:8.00px;line-height:8.00px">0,42</div>
<div class="c pb" style="left:138.9px;top:240.00px;height:8.00px;line-height:8.00px">2,38</div>
<div class="bg" style="left:23.7px;width:225.5px;top:248.50px;height:9.10px"></div>
<div class="c pb" style="left:-58.5px;top:249.00px;height:8.00px;line-height:8.00px">RAB5C</div>
<div class="c pr" style="left:31.4px;top:249.00px;height:8.00px;line-height:8.00px">GTPase, Protein Transport</div>
<div class="c pr nv" style="left:114.5px;top:249.00px;height:8.00px;line-height:8.00px">0,38</div>
<div class="c pb" style="left:138.9px;top:249.00px;height:8.00px;line-height:8.00px">2,63</div>
<div class="c pb" style="left:-58.5px;top:258.20px;height:8.00px;line-height:8.00px">SAR1A/B</div>
<div class="c pr" style="left:31.4px;top:258.20px;height:8.00px;line-height:8.00px">Protein Transport, Vesikel, Immune Response</div>
<div class="c pr nv" style="left:114.5px;top:258.20px;height:8.00px;line-height:8.00px">0,44</div>
<div class="c pb" style="left:138.9px;top:258.20px;height:8.00px;line-height:8.00px">2,27</div>
<div class="bg" style="left:23.7px;width:225.5px;top:267.70px;height:8.65px"></div>
<div class="c pb" style="left:-58.5px;top:267.70px;height:8.00px;line-height:8.00px">STAT1</div>
<div class="c pr" style="left:31.4px;top:267.70px;height:8.00px;line-height:8.00px">Immune Response, Intracellular signaling</div>
<div class="c pr nv" style="left:114.5px;top:267.70px;height:8.00px;line-height:8.00px">0,38</div>
<div class="c pb" style="left:138.9px;top:267.70px;height:8.00px;line-height:8.00px">2,59</div>
<div class="c pb" style="left:-58.5px;top:277.00px;height:8.00px;line-height:8.00px">CTSH</div>
<div class="c pr" style="left:31.4px;top:277.00px;height:8.00px;line-height:8.00px">Immune Response, Migration, Proliferation</div>
<div class="c pr nv" style="left:114.5px;top:277.00px;height:8.00px;line-height:8.00px">0,26</div>
<div class="c pb" style="left:138.9px;top:277.00px;height:8.00px;line-height:8.00px">3,84</div>
<div class="bg" style="left:23.7px;width:225.5px;top:285.55px;height:8.85px"></div>
<div class="c pb" style="left:-58.5px;top:286.10px;height:8.00px;line-height:8.00px">PSMD6</div>
<div class="c pr" style="left:31.4px;top:286.10px;height:8.00px;line-height:8.00px">Immune Response</div>
<div class="c pr nv" style="left:114.5px;top:286.10px;height:8.00px;line-height:8.00px">0,40</div>
<div class="c pb" style="left:138.9px;top:286.10px;height:8.00px;line-height:8.00px">2,51</div>
<div class="c pb" style="left:-58.5px;top:295.30px;height:8.00px;line-height:8.00px">SUB1</div>
<div class="c pr" style="left:31.4px;top:295.30px;height:8.00px;line-height:8.00px">Transcription, SMAD Protein Transduction</div>
<div class="c pr nv" style="left:114.5px;top:295.30px;height:8.00px;line-height:8.00px">0,42</div>
<div class="c pb" style="left:138.9px;top:295.30px;height:8.00px;line-height:8.00px">2,38</div>
<div class="bg" style="left:23.7px;width:225.5px;top:303.95px;height:9.40px"></div>
<div class="c pb" style="left:-58.5px;top:304.60px;height:8.00px;line-height:8.00px">SF3A1</div>
<div class="c pr" style="left:31.4px;top:304.60px;height:8.00px;line-height:8.00px">mRNA Splicing</div>
<div class="c pr nv" style="left:114.5px;top:304.60px;height:8.00px;line-height:8.00px">0,37</div>
<div class="c pb" style="left:138.9px;top:304.60px;height:8.00px;line-height:8.00px">2,70</div>
<div class="c pb" style="left:-58.5px;top:314.10px;height:8.00px;line-height:8.00px">RNASET2</div>
<div class="c pr" style="left:31.4px;top:314.10px;height:8.00px;line-height:8.00px">RNA Hydrolysis</div>
<div class="c pr nv" style="left:114.5px;top:314.10px;height:8.00px;line-height:8.00px">0,45</div>
<div class="c pb" style="left:138.9px;top:314.10px;height:8.00px;line-height:8.00px">2,23</div>
<div class="bg" style="left:23.7px;width:225.5px;top:323.10px;height:8.55px"></div>
<div class="c pb" style="left:-58.5px;top:323.10px;height:8.00px;line-height:8.00px">EIF5A</div>
<div class="c pr" style="left:31.4px;top:323.10px;height:8.00px;line-height:8.00px">Metabolic Process (Protein)</div>
<div class="c pr nv" style="left:114.5px;top:323.10px;height:8.00px;line-height:8.00px">0,40</div>
<div class="c pb" style="left:138.9px;top:323.10px;height:8.00px;line-height:8.00px">2,50</div>
<div class="c pb" style="left:-58.5px;top:332.20px;height:8.00px;line-height:8.00px">RPLP1</div>
<div class="c pr" style="left:31.4px;top:332.20px;height:8.00px;line-height:8.00px">Metabolic Process (Protein)</div>
<div class="c pr nv" style="left:114.5px;top:332.20px;height:8.00px;line-height:8.00px">0,43</div>
<div class="c pb" style="left:138.9px;top:332.20px;height:8.00px;line-height:8.00px">2,32</div>
<div class="bg" style="left:23.7px;width:225.5px;top:340.90px;height:9.35px"></div>
<div class="c pb" style="left:-58.5px;top:341.60px;height:8.00px;line-height:8.00px">RPL17</div>
<div class="c pr" style="left:31.4px;top:341.60px;height:8.00px;line-height:8.00px">Metabolic Process (Protein)</div>
<div class="c pr nv" style="left:114.5px;top:341.60px;height:8.00px;line-height:8.00px">0,24</div>
<div class="c pb" style="left:138.9px;top:341.60px;height:8.00px;line-height:8.00px">4,14</div>
<div class="c pb" style="left:-58.5px;top:350.90px;height:8.00px;line-height:8.00px">FUCA1</div>
<div class="c pr" style="left:31.4px;top:350.90px;height:8.00px;line-height:8.00px">Metabolic Process (Protein), Catabolic Process (GAG)</div>
<div class="c pr nv" style="left:114.5px;top:350.90px;height:8.00px;line-height:8.00px">0,45</div>
<div class="c pb" style="left:138.9px;top:350.90px;height:8.00px;line-height:8.00px">2,24</div>
<div class="bg" style="left:23.7px;width:225.5px;top:359.70px;height:10.90px"></div>
<div class="c pb" style="left:-58.5px;top:360.50px;height:8.00px;line-height:8.00px">NAGK</div>
<div class="c pr" style="left:31.4px;top:360.50px;height:8.00px;line-height:8.00px">Metabolic Process (Hexosamine Biosynthesis)</div>
<div class="c pr nv" style="left:114.5px;top:360.50px;height:8.00px;line-height:8.00px">0,32</div>
<div class="c pb" style="left:138.9px;top:360.50px;height:8.00px;line-height:8.00px">3,11</div>
<div class="c pb" style="left:-58.5px;top:372.70px;height:8.00px;line-height:8.00px">PAFAH1B1</div>
<div class="c pr" style="left:31.4px;top:370.50px;line-height:6.2px">Cytoskeleton, Metabolic Process (PAF), Catabolic<br>Process (Lipids)</div>
<div class="c pr nv" style="left:114.5px;top:372.70px;height:8.00px;line-height:8.00px">0,36</div>
<div class="c pb" style="left:138.9px;top:372.70px;height:8.00px;line-height:8.00px">2,79</div>
<div class="bg" style="left:23.7px;width:225.5px;top:386.10px;height:6.90px"></div>
<div class="c pb" style="left:-58.5px;top:385.40px;height:8.00px;line-height:8.00px">MYO6</div>
<div class="c pr" style="left:31.4px;top:385.40px;height:8.00px;line-height:8.00px">Cytoskeleton</div>
<div class="c pr nv" style="left:114.5px;top:385.40px;height:8.00px;line-height:8.00px">0,39</div>
<div class="c pb" style="left:138.9px;top:385.40px;height:8.00px;line-height:8.00px">2,57</div>
<div class="c pb" style="left:-58.5px;top:394.20px;height:8.00px;line-height:8.00px">TPT1</div>
<div class="c pr" style="left:31.4px;top:394.20px;height:8.00px;line-height:8.00px">Calcium Homeostasis</div>
<div class="c pr nv" style="left:114.5px;top:394.20px;height:8.00px;line-height:8.00px">0,42</div>
<div class="c pb" style="left:138.9px;top:394.20px;height:8.00px;line-height:8.00px">2,40</div>
<div class="bg" style="left:23.7px;width:225.5px;top:402.75px;height:8.55px"></div>
<div class="c pb" style="left:-58.5px;top:403.30px;height:8.00px;line-height:8.00px">RMDN3</div>
<div class="c pr" style="left:31.4px;top:403.30px;height:8.00px;line-height:8.00px">Calcium Homeostasis</div>
<div class="c pr nv" style="left:114.5px;top:403.30px;height:8.00px;line-height:8.00px">0,31</div>
<div class="c pb" style="left:138.9px;top:403.30px;height:8.00px;line-height:8.00px">3,23</div>
<div class="ln" style="left:23.7px;width:226px;top:211.00px;height:2.00px"></div>
<div class="ln" style="left:23.7px;width:226px;top:221.00px;height:2.00px"></div>
<div class="ln" style="left:23.7px;width:226px;top:239.00px;height:2.00px"></div>
<div class="ln" style="left:23.7px;width:226px;top:267.00px;height:2.00px"></div>
<div class="ln" style="left:23.7px;width:226px;top:294.00px;height:2.00px"></div>
<div class="ln" style="left:23.7px;width:226px;top:322.00px;height:2.00px"></div>
<div class="ln" style="left:23.7px;width:226px;top:385.00px;height:2.00px"></div>
<div class="ln" style="left:23.7px;width:226px;top:393.00px;height:2.00px"></div>

<div class="tbl" style="left:270.8px;top:200.2px;width:241.5px;height:212.9px"></div>
<div style="position:absolute;left:272px;top:201px;width:12px;height:211px;background:#a8052c"></div>
<div style="position:absolute;left:284px;top:201px;width:1px;height:211px;background:#2a0a10"></div>
<div class="side" style="left:238px;top:302.3px;font-weight:bold;font-size:7.6px">upregulated</div>
<div class="ln" style="left:285.1px;width:226px;top:220px;height:2px"></div>
<div class="c pb" style="left:205.7px;top:210.8px;line-height:0;">Protein</div>
<div class="c pb" style="left:303.6px;top:211px;line-height:0;">Process/Function</div>
<div class="c pb" style="left:395.8px;top:206.8px;line-height:0;">Ratio</div>
<div class="c pb" style="left:395.8px;top:213.3px;line-height:0;">norm.</div>
<div class="bg" style="left:285.1px;width:225.6px;top:221.00px;height:10.10px"></div>
<div class="c pb" style="left:205.7px;top:221.80px;height:8.00px;line-height:8.00px">CPT2</div>
<div class="c pr cp" style="left:303.6px;top:221.80px;height:8.00px;line-height:8.00px">Metabolic Process (FAO)</div>
<div class="c pb nv" style="left:395.8px;top:221.80px;height:8.00px;line-height:8.00px">8,13</div>
<div class="c pb" style="left:205.7px;top:232.40px;height:8.00px;line-height:8.00px">G6PDX</div>
<div class="c pr cp" style="left:303.6px;top:232.40px;height:8.00px;line-height:8.00px">Metabolic Process (PPP)</div>
<div class="c pb nv" style="left:395.8px;top:232.40px;height:8.00px;line-height:8.00px">6,81</div>
<div class="bg" style="left:285.1px;width:225.6px;top:241.75px;height:10.75px"></div>
<div class="c pb" style="left:205.7px;top:243.10px;height:8.00px;line-height:8.00px">HSD11B1</div>
<div class="c pr cp" style="left:303.6px;top:243.10px;height:8.00px;line-height:8.00px">Metabolic Process (Glucocorticoids)</div>
<div class="c pb nv" style="left:395.8px;top:243.10px;height:8.00px;line-height:8.00px">1,33</div>
<div class="c pb" style="left:205.7px;top:253.90px;height:8.00px;line-height:8.00px">BCKDHA</div>
<div class="c pr cp" style="left:303.6px;top:253.90px;height:8.00px;line-height:8.00px">Metabolic Process (Nitric Oxid)</div>
<div class="c pb nv" style="left:395.8px;top:253.90px;height:8.00px;line-height:8.00px">7,74</div>
<div class="bg" style="left:285.1px;width:225.6px;top:263.25px;height:10.55px"></div>
<div class="c pb" style="left:205.7px;top:264.60px;height:8.00px;line-height:8.00px">MARC2</div>
<div class="c pr cp" style="left:303.6px;top:264.60px;height:8.00px;line-height:8.00px">Metabolic Process (Nitric Oxid)</div>
<div class="c pb nv" style="left:395.8px;top:264.60px;height:8.00px;line-height:8.00px">3,31</div>
<div class="c pb" style="left:205.7px;top:275.00px;height:8.00px;line-height:8.00px">STEAP 4</div>
<div class="c pr cp" style="left:303.6px;top:275.00px;height:8.00px;line-height:8.00px">Metabolic Process (Iron)</div>
<div class="c pb nv" style="left:395.8px;top:275.00px;height:8.00px;line-height:8.00px">4,37</div>
<div class="bg" style="left:285.1px;width:225.6px;top:285.20px;height:9.80px"></div>
<div class="c pb" style="left:205.7px;top:285.50px;height:8.00px;line-height:8.00px">HSPG2</div>
<div class="c pr cp" style="left:303.6px;top:285.50px;height:8.00px;line-height:8.00px">Extracellular Matrix, Angiogenesis</div>
<div class="c pb nv" style="left:395.8px;top:285.50px;height:8.00px;line-height:8.00px">2,76</div>
<div class="c pb" style="left:205.7px;top:296.40px;height:8.00px;line-height:8.00px">RDX</div>
<div class="c pr cp" style="left:303.6px;top:296.40px;height:8.00px;line-height:8.00px">Cytoskeleton, Migration</div>
<div class="c pb nv" style="left:395.8px;top:296.40px;height:8.00px;line-height:8.00px">3,43</div>
<div class="bg" style="left:285.1px;width:225.6px;top:306.20px;height:9.50px"></div>
<div class="c pb" style="left:205.7px;top:306.70px;height:8.00px;line-height:8.00px">LTF</div>
<div class="c pr cp" style="left:303.6px;top:306.70px;height:8.00px;line-height:8.00px">Immune Response</div>
<div class="c pb nv" style="left:395.8px;top:306.70px;height:8.00px;line-height:8.00px">7,1</div>
<div class="c pb" style="left:205.7px;top:316.70px;height:8.00px;line-height:8.00px">PSMC2</div>
<div class="c pr cp" style="left:303.6px;top:316.70px;height:8.00px;line-height:8.00px">Immune Response/ RNA-DNA cell machinery</div>
<div class="c pb nv" style="left:395.8px;top:316.70px;height:8.00px;line-height:8.00px">4,9</div>
<div class="bg" style="left:285.1px;width:225.6px;top:327.90px;height:9.60px"></div>
<div class="c pb" style="left:205.7px;top:328.10px;height:8.00px;line-height:8.00px">HSPA1A</div>
<div class="c pr cp" style="left:303.6px;top:328.10px;height:8.00px;line-height:8.00px">RNA-DNA cell machinery</div>
<div class="c pb nv" style="left:395.8px;top:328.10px;height:8.00px;line-height:8.00px">3,04</div>
<div class="c pb" style="left:205.7px;top:338.90px;height:8.00px;line-height:8.00px">CSDE1</div>
<div class="c pr cp" style="left:303.6px;top:338.90px;height:8.00px;line-height:8.00px">RNA-DNA cell machinery</div>
<div class="c pb nv" style="left:395.8px;top:338.90px;height:8.00px;line-height:8.00px">5,86</div>
<div class="bg" style="left:285.1px;width:225.6px;top:348.30px;height:10.85px"></div>
<div class="c pb" style="left:205.7px;top:349.70px;height:8.00px;line-height:8.00px">FAM 208A</div>
<div class="c pr cp" style="left:303.6px;top:349.70px;height:8.00px;line-height:8.00px">RNA-DNA cell machinery</div>
<div class="c pb nv" style="left:395.8px;top:349.70px;height:8.00px;line-height:8.00px">2,83</div>
<div class="c pb" style="left:205.7px;top:360.60px;height:8.00px;line-height:8.00px">GM5449</div>
<div class="c pr cp" style="left:303.6px;top:360.60px;height:8.00px;line-height:8.00px">RNA-DNA cell machinery</div>
<div class="c pb nv" style="left:395.8px;top:360.60px;height:8.00px;line-height:8.00px">6,46</div>
<div class="bg" style="left:285.1px;width:225.6px;top:370.80px;height:9.75px"></div>
<div class="c pb" style="left:205.7px;top:371.30px;height:8.00px;line-height:8.00px">ATP1A1</div>
<div class="c pr cp" style="left:303.6px;top:371.30px;height:8.00px;line-height:8.00px">ATP-dependent processes</div>
<div class="c pb nv" style="left:395.8px;top:371.30px;height:8.00px;line-height:8.00px">3,8</div>
<div class="c pb" style="left:205.7px;top:381.80px;height:8.00px;line-height:8.00px">ATP5I</div>
<div class="c pr cp" style="left:303.6px;top:381.80px;height:8.00px;line-height:8.00px">ATP-dependent processes</div>
<div class="c pb nv" style="left:395.8px;top:381.80px;height:8.00px;line-height:8.00px">5,44</div>
<div class="bg" style="left:285.1px;width:225.6px;top:392.80px;height:8.90px"></div>
<div class="c pb" style="left:205.7px;top:392.40px;height:8.00px;line-height:8.00px">RDH7</div>
<div class="c pr cp" style="left:303.6px;top:392.40px;height:8.00px;line-height:8.00px">Dehydrogenase activity</div>
<div class="c pb nv" style="left:395.8px;top:392.40px;height:8.00px;line-height:8.00px">3,15</div>
<div class="c pb" style="left:205.7px;top:403.00px;height:8.00px;line-height:8.00px">MUG1</div>
<div class="c pr cp" style="left:303.6px;top:403.00px;height:8.00px;line-height:8.00px">Endopeptidase activity</div>
<div class="c pb nv" style="left:395.8px;top:403.00px;height:8.00px;line-height:8.00px">2,84</div>
<div class="ln" style="left:285.1px;width:226px;top:284px;height:2px"></div>
<div class="ln" style="left:285.1px;width:226px;top:295px;height:2px"></div>
<div class="ln" style="left:285.1px;width:226px;top:305px;height:2px"></div>
<div class="ln" style="left:285.1px;width:226px;top:327px;height:2px"></div>
<div class="ln" style="left:285.1px;width:226px;top:370px;height:2px"></div>
<div class="ln" style="left:285.1px;width:226px;top:392px;height:2px"></div>
</body></html>
